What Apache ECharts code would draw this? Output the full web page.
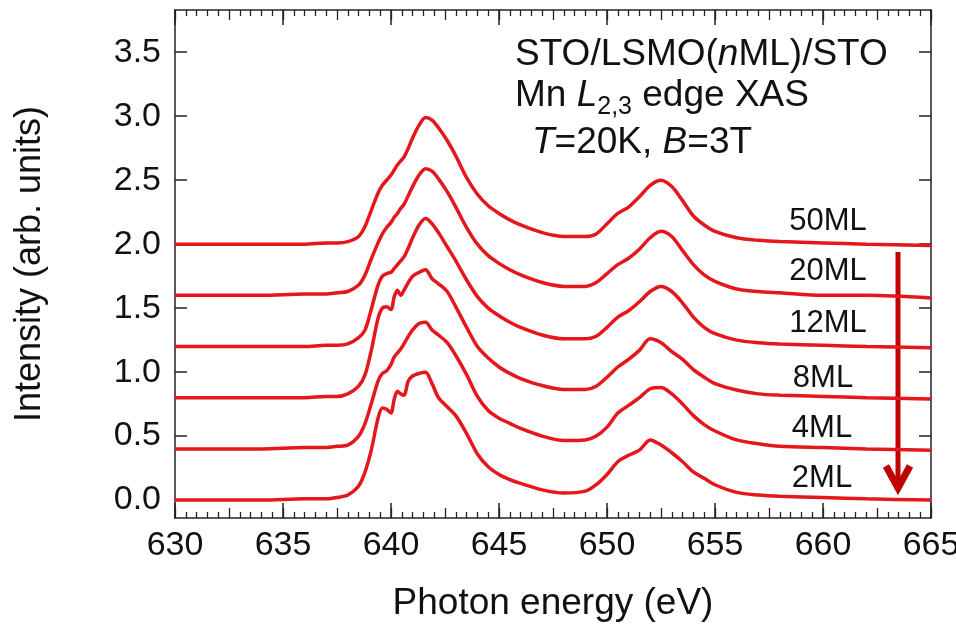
<!DOCTYPE html>
<html lang="en">
  <head>
    <meta charset="UTF-8" />
    <title>Mn L2,3 edge XAS</title>
    <script src="https://cdn.jsdelivr.net/npm/echarts@6/dist/echarts.min.js"></script>
    <style>
      body { margin: 0; background: #fff; }
    </style>
  </head>

  <body>
    <div id="main" style="width: 956px; height: 628px"></div>
    <script type="text/javascript">
      // photon energy (eV), shared by all spectra
      const energy = [
        630, 632, 634, 636, 637, 637.5, 638, 638.5, 638.8, 639.1, 639.4, 639.6, 639.8, 640.0,
        640.15, 640.3, 640.45, 640.6, 640.8, 641.0, 641.3, 641.6, 641.9, 642.2, 642.6, 643.0,
        643.5, 644.0, 644.5, 645.0, 645.5, 646.0, 647.0, 648.0, 649.0, 649.5, 650.0, 650.5,
        651.0, 651.5, 652.0, 652.5, 653.0, 653.5, 654.0, 654.5, 655.0, 656.0, 657.0, 658.0,
        660.0, 662.0, 665.0,
      ];
      // intensities as plotted (already offset)
      const ml50 = [
        2.00, 2.00, 2.00, 2.00, 2.01, 2.01, 2.02, 2.06, 2.14, 2.27, 2.40, 2.46, 2.50, 2.54,
        2.58, 2.62, 2.65, 2.68, 2.75, 2.83, 2.93, 2.99, 2.97, 2.91, 2.81, 2.69, 2.52, 2.39,
        2.30, 2.24, 2.19, 2.15, 2.09, 2.06, 2.06, 2.08, 2.16, 2.24, 2.29, 2.37, 2.46, 2.50,
        2.45, 2.34, 2.22, 2.15, 2.10, 2.05, 2.03, 2.02, 2.01, 2.00, 1.99,
      ];
      const ml20 = [
        1.60, 1.60, 1.60, 1.61, 1.61, 1.62, 1.63, 1.68, 1.76, 1.89, 2.01, 2.08, 2.13, 2.17,
        2.21, 2.24, 2.28, 2.31, 2.38, 2.45, 2.54, 2.59, 2.57, 2.51, 2.41, 2.29, 2.13, 2.00,
        1.91, 1.85, 1.80, 1.76, 1.70, 1.67, 1.67, 1.70, 1.77, 1.84, 1.89, 1.96, 2.05, 2.10,
        2.06, 1.95, 1.84, 1.76, 1.71, 1.65, 1.63, 1.62, 1.60, 1.60, 1.58,
      ];
      const ml12 = [
        1.20, 1.20, 1.20, 1.20, 1.21, 1.21, 1.22, 1.27, 1.33, 1.50, 1.68, 1.75, 1.77, 1.78,
        1.81, 1.84, 1.87, 1.90, 1.97, 2.05, 2.15, 2.20, 2.16, 2.09, 1.98, 1.87, 1.72, 1.59,
        1.50, 1.44, 1.39, 1.35, 1.29, 1.26, 1.26, 1.28, 1.35, 1.43, 1.48, 1.55, 1.63, 1.67,
        1.63, 1.54, 1.43, 1.35, 1.30, 1.25, 1.23, 1.22, 1.21, 1.20, 1.19,
      ];
      const ml8 = [
        0.80, 0.80, 0.80, 0.80, 0.81, 0.81, 0.83, 0.89, 0.98, 1.18, 1.42, 1.50, 1.51, 1.49,
        1.59, 1.64, 1.60, 1.64, 1.70, 1.75, 1.78, 1.80, 1.73, 1.69, 1.63, 1.51, 1.35, 1.20,
        1.11, 1.04, 0.99, 0.95, 0.895, 0.865, 0.865, 0.89, 0.96, 1.04, 1.10, 1.17, 1.26, 1.23,
        1.16, 1.10, 1.02, 0.96, 0.91, 0.86, 0.83, 0.82, 0.81, 0.80, 0.79,
      ];
      const ml4 = [
        0.40, 0.40, 0.40, 0.41, 0.41, 0.42, 0.43, 0.50, 0.60, 0.76, 0.93, 0.99, 1.01, 1.06,
        1.12, 1.15, 1.18, 1.22, 1.28, 1.33, 1.38, 1.39, 1.33, 1.29, 1.23, 1.13, 0.98, 0.81,
        0.70, 0.64, 0.60, 0.56, 0.50, 0.465, 0.47, 0.50, 0.57, 0.68, 0.74, 0.80, 0.87, 0.88,
        0.83, 0.75, 0.66, 0.59, 0.54, 0.47, 0.44, 0.42, 0.41, 0.40, 0.39,
      ];
      const ml2 = [
        0.00, 0.00, 0.00, 0.01, 0.01, 0.02, 0.04, 0.11, 0.22, 0.40, 0.64, 0.72, 0.71, 0.68,
        0.79, 0.85, 0.83, 0.82, 0.93, 0.97, 0.99, 1.00, 0.91, 0.80, 0.73, 0.66, 0.52, 0.36,
        0.26, 0.20, 0.16, 0.13, 0.08, 0.055, 0.07, 0.12, 0.20, 0.30, 0.35, 0.39, 0.47, 0.43,
        0.37, 0.30, 0.22, 0.17, 0.12, 0.06, 0.04, 0.03, 0.02, 0.01, 0.00,
      ];
      const seriesNames = ["50ML", "20ML", "12ML", "8ML", "4ML", "2ML"];
      const seriesValues = [ml50, ml20, ml12, ml8, ml4, ml2];
      const yTicks = [0, 0.5, 1.0, 1.5, 2.0, 2.5, 3.0, 3.5];

      const font = "Liberation Sans";
      const red = "#e3171c";
      const axisColor = "#222";

      let myChart = echarts.init(document.getElementById("main"));

      // x axes: major every 5 eV (with line + labels), second layer for 2.5 eV and 0.5 eV ticks
      function xMajor(pos) {
        return {
          type: "value",
          position: pos,
          min: 630,
          max: 665,
          interval: 5,
          axisLine: { show: true, onZero: false, lineStyle: { color: axisColor, width: 1.5 } },
          axisTick: { show: true, inside: true, length: 15, lineStyle: { color: axisColor, width: 1.5 } },
          axisLabel: { show: false },
          splitLine: { show: false },
        };
      }
      function xMinor(pos) {
        return {
          type: "value",
          position: pos,
          min: 630,
          max: 665,
          interval: 2.5,
          axisLine: { show: false, onZero: false },
          axisTick: { show: true, inside: true, length: 10, lineStyle: { color: axisColor, width: 1.3 } },
          minorTick: { show: true, splitNumber: 5, length: 6, lineStyle: { color: axisColor, width: 1.3 } },
          axisLabel: { show: false },
          splitLine: { show: false },
        };
      }
      function yAxisAt(pos) {
        return {
          type: "value",
          position: pos,
          min: -0.14,
          max: 3.83,
          axisLine: { show: true, onZero: false, lineStyle: { color: axisColor, width: 1.5 } },
          axisTick: {
            show: true,
            inside: true,
            length: 12,
            customValues: yTicks,
            lineStyle: { color: axisColor, width: 1.5 },
          },
          axisLabel: { show: false },
          splitLine: { show: false },
        };
      }

      let xBottom = xMajor("bottom");
      xBottom.name = "Photon energy (eV)";
      xBottom.nameLocation = "middle";
      xBottom.nameGap = 67;
      xBottom.nameTextStyle = { fontFamily: font, fontSize: 37, color: "#111" };
      xBottom.axisLabel = { show: true, margin: 11, fontFamily: font, fontSize: 34, color: "#111" };

      let yLeft = yAxisAt("left");
      yLeft.name = "Intensity (arb. units)";
      yLeft.nameLocation = "middle";
      yLeft.nameGap = 127;
      yLeft.nameTextStyle = { fontFamily: font, fontSize: 36, color: "#111" };
      yLeft.axisLabel = {
        show: true,
        margin: 14,
        customValues: yTicks,
        fontFamily: font,
        fontSize: 34,
        color: "#111",
        formatter: (v) => v.toFixed(1),
      };

      let series = seriesNames.map((name, i) => ({
        name: name,
        type: "line",
        xAxisIndex: 0,
        yAxisIndex: 0,
        data: energy.map((e, j) => [e, seriesValues[i][j]]),
        showSymbol: false,
        smooth: 0.3,
        lineStyle: { color: red, width: 3.5 },
        itemStyle: { color: red },
        z: 3,
      }));

      // ML labels next to each spectrum
      const mlLabelPos = [
        [828, 221], [828, 271], [828, 323], [823, 378], [822, 428], [822, 478],
      ];
      let labelTexts = seriesNames.map((name, i) => ({
        type: "text",
        style: {
          text: name,
          x: mlLabelPos[i][0],
          y: mlLabelPos[i][1],
          align: "center",
          verticalAlign: "middle",
          font: "31px " + font,
          fill: "#111",
        },
      }));

      const rich = {
        a: { fontSize: 37, fontFamily: font, fill: "#111", lineHeight: 48 },
        i: { fontSize: 37, fontFamily: font, fontStyle: "italic", fill: "#111", lineHeight: 48 },
        s: { fontSize: 25, fontFamily: font, fill: "#111", lineHeight: 24, verticalAlign: "bottom" },
      };
      const noteLines = [
        { text: "{a|STO/LSMO(}{i|n}{a|ML)/STO}", x: 515, y: 55 },
        { text: "{a|Mn }{i|L}{s|2,3}{a| edge XAS}", x: 515, y: 96 },
        { text: "{i|T}{a|=20K, }{i|B}{a|=3T}", x: 532, y: 143 },
      ];
      let noteTexts = noteLines.map((l) => ({
        type: "text",
        style: { text: l.text, x: l.x, y: l.y, align: "left", verticalAlign: "middle", rich: rich },
      }));

      const arrowColor = "#c00000";
      let arrow = [
        {
          type: "line",
          shape: { x1: 898, y1: 252, x2: 898, y2: 486 },
          style: { stroke: arrowColor, lineWidth: 5 },
        },
        {
          type: "polyline",
          shape: { points: [[886, 466], [898, 488], [910, 466]] },
          style: { stroke: arrowColor, lineWidth: 7, fill: null, lineJoin: "miter" },
        },
      ];

      let options = {
        animation: false,
        backgroundColor: "#fff",
        grid: { left: 175, right: 25, top: 10, bottom: 110, outerBoundsMode: "none" },
        xAxis: [xBottom, xMajor("top"), xMinor("bottom"), xMinor("top")],
        yAxis: [yLeft, yAxisAt("right")],
        series: series,
        graphic: labelTexts.concat(noteTexts, arrow),
      };

      myChart.setOption(options);
    </script>
  </body>
</html>
